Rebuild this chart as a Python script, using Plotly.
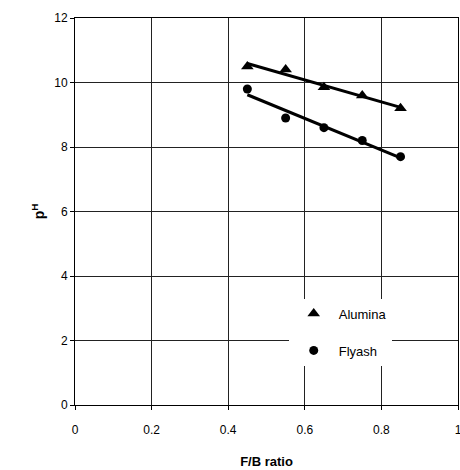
import numpy as np
import plotly.graph_objects as go

fb_ratio = [0.45, 0.55, 0.65, 0.75, 0.85]
alumina_ph = [10.5, 10.4, 9.85, 9.6, 9.2]
flyash_ph = [9.8, 8.9, 8.6, 8.2, 7.7]

x_ticks = [0, 0.2, 0.4, 0.6, 0.8, 1]
y_ticks = [0, 2, 4, 6, 8, 10, 12]

def trend(x, y):
    m, b = np.polyfit(x, y, 1)
    xs = [min(x), max(x)]
    return xs, [m * v + b for v in xs]

fig = go.Figure()

for name, ys, sym, size, grp in [("Alumina", alumina_ph, "triangle-up", 11, "a"),
                                  ("Flyash", flyash_ph, "circle", 9, "b")]:
    tx, ty = trend(fb_ratio, ys)
    fig.add_trace(go.Scatter(x=tx, y=ty, mode="lines", line=dict(color="black", width=3),
                             showlegend=False, hoverinfo="skip"))
    fig.add_trace(go.Scatter(x=fb_ratio, y=ys, mode="markers", name=name, legendgroup=grp,
                             marker=dict(symbol=sym, size=size, color="black")))

font_fam = "Liberation Sans, Arial"
axis_common = dict(showgrid=True, gridcolor="#222", gridwidth=1, showline=True, linecolor="black",
                   linewidth=1, mirror=True, ticks="outside", ticklen=4, tickcolor="black",
                   zeroline=False, automargin=False,
                   tickfont=dict(family=font_fam, size=12, color="black"))

fig.update_xaxes(range=[0, 1], tickvals=x_ticks, ticktext=[str(v) for v in x_ticks],
                 ticklabelstandoff=10, ticklabeloverflow="allow",
                 title=dict(text="<b>F/B ratio</b>", font=dict(family=font_fam, size=13, color="black"), standoff=20),
                 **axis_common)
fig.update_yaxes(range=[0, 12], tickvals=y_ticks,
                 title=dict(text="<b>p<sup>H</sup></b>", font=dict(family=font_fam, size=14, color="black"), standoff=6),
                 **axis_common)

fig.update_layout(
    width=460, height=470,
    margin=dict(l=75, r=2, t=18, b=65),
    plot_bgcolor="white", paper_bgcolor="white",
    legend=dict(x=0.558, y=0.275, xanchor="left", yanchor="top", bgcolor="white",
                font=dict(family=font_fam, size=13, color="black"),
                traceorder="grouped", tracegroupgap=17, itemwidth=40,
                entrywidth=110, entrywidthmode="pixels"),
)

fig.write_html("out.html", config={"displayModeBar": False},
               post_script="document.body.style.margin='0';document.body.style.padding='0';"
                           "document.body.style.overflow='hidden';document.documentElement.style.overflow='hidden';")
